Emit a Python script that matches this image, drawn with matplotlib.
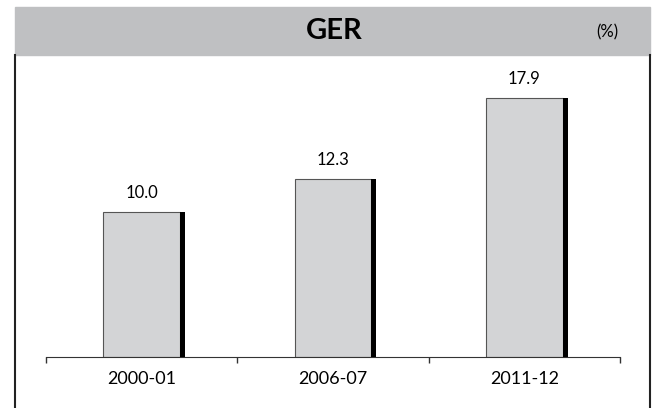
import matplotlib
matplotlib.use("Agg")
import matplotlib.pyplot as plt
import matplotlib.patches as mpatches
from matplotlib.lines import Line2D
import numpy as np

# data
# ----------
years = ["2000-01", "2006-07", "2011-12"]
ger = [10.0, 12.3, 17.9]

title = "GER"
unit = "(%)"

# plot settings
# ----------
plt.rcParams["font.family"] = ["Lato", "DejaVu Sans"]

W, H = 654, 408
fig = plt.figure(figsize=(W / 100, H / 100), dpi=100)

def fx(px):
    return px / W

def fy(py):
    return 1 - py / H

# header band and frame
fig.patches.append(mpatches.Rectangle((fx(15), fy(55)), fx(635), 48 / H,
                                      transform=fig.transFigure, color="#bfc0c2", zorder=0))
fig.lines.append(Line2D([fx(15), fx(15)], [fy(55), 0], transform=fig.transFigure,
                        color="#222222", lw=1.5))
fig.lines.append(Line2D([fx(650), fx(650)], [fy(55), 0], transform=fig.transFigure,
                        color="#222222", lw=1.5))
fig.text(fx(334), fy(31), title, ha="center", va="center", fontsize=21, fontweight="bold")
fig.text(fx(607), fy(32), unit, ha="center", va="center", fontsize=12)

ax = fig.add_axes([fx(46), fy(357), fx(574), 297 / H])
x = np.arange(len(years))
bar_w = 0.40
shadow_w = 0.027

ax.bar(x, ger, width=bar_w, color="#d3d4d6", edgecolor="#555555", linewidth=0.8, zorder=2)
ax.bar(x + bar_w / 2, ger, width=shadow_w, align="edge", color="black", linewidth=0, zorder=3)

for xi, v in zip(x, ger):
    ax.annotate(f"{v:.1f}", (xi, v), xytext=(0, 8), textcoords="offset points",
                ha="center", va="bottom", fontsize=12)

ax.set_xlim(-0.5, len(years) - 0.5)
ax.set_ylim(0, 20.5)
ax.set_yticks([])
ax.set_xticks(x)
ax.set_xticklabels(years, fontsize=13)
ax.tick_params(axis="x", which="major", length=0, pad=10)
ax.set_xticks(np.arange(len(years) + 1) - 0.5, minor=True)
ax.tick_params(axis="x", which="minor", length=4, width=1, color="#333333", direction="out")
for s in ["top", "left", "right"]:
    ax.spines[s].set_visible(False)
ax.spines["bottom"].set_color("#333333")
ax.patch.set_alpha(0)

fig.savefig("out.png", dpi=100)
